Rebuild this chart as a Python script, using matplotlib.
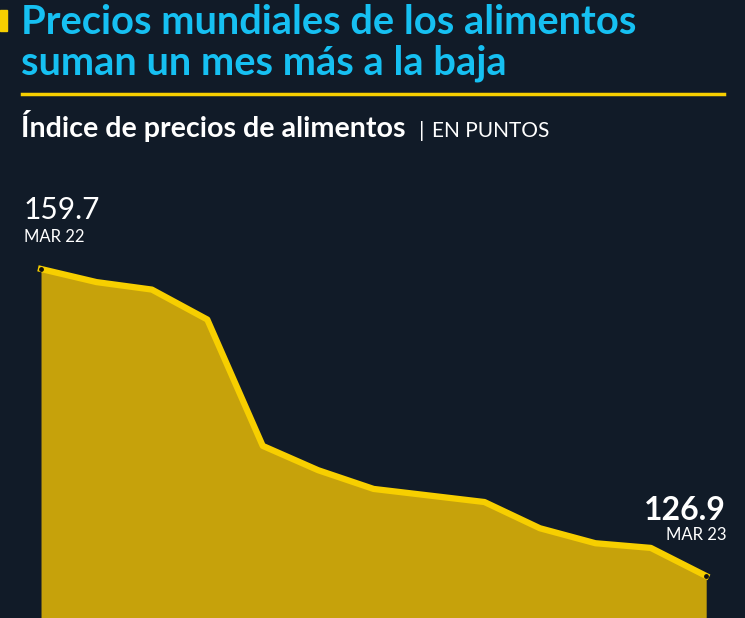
import numpy as np
import matplotlib.pyplot as plt

months = ["MAR 22", "ABR 22", "MAY 22", "JUN 22", "JUL 22", "AGO 22", "SEP 22",
          "OCT 22", "NOV 22", "DIC 22", "ENE 23", "FEB 23", "MAR 23"]
index_values = [159.7, 158.3, 157.5, 154.3, 140.8, 138.2, 136.2,
                135.5, 134.8, 132.0, 130.4, 129.9, 126.9]

bg = "#111b28"
cyan = "#16c0f2"
yellow = "#f7cf00"
fill_col = "#c6a20b"

W, H = 745, 618
fig = plt.figure(figsize=(W / 100, H / 100), dpi=100, facecolor=bg)

def fx(px):
    return px / W

def fy(py):
    return 1 - py / H

# chart area covers the whole figure, limits chosen to place the marks
ax = fig.add_axes([0, 0, 1, 1])
ax.set_facecolor(bg)
x = np.arange(len(index_values))
ax.fill_between(x, index_values, 100, color=fill_col, lw=0)
ax.plot(x, index_values, color=yellow, lw=4.5, solid_joinstyle="round")
ax.scatter([x[0], x[-1]], [index_values[0], index_values[-1]], s=6, color="#111111", zorder=5)
ax.set_xlim(-0.74, 12.70)
ax.set_ylim(122.41, 188.44)
ax.axis("off")

font = "Lato"

# header
fig.patches.append(plt.Rectangle((0, fy(31)), fx(7), 21 / H, transform=fig.transFigure,
                                 color=yellow))
fig.text(fx(21), fy(34), "Precios mundiales de los alimentos", color=cyan,
         fontsize=28.7, fontweight="bold", family=font, va="baseline")
fig.text(fx(21), fy(75), "suman un mes más a la baja", color=cyan,
         fontsize=28.7, fontweight="bold", family=font, va="baseline")
fig.add_artist(plt.Line2D([fx(22), fx(724)], [fy(94), fy(94)], color=yellow, lw=2.5))
fig.text(fx(21), fy(137), "Índice de precios de alimentos", color="white",
         fontsize=20.6, fontweight="bold", family=font, va="baseline")
fig.text(fx(419), fy(137), "|", color="white",
         fontsize=16, fontweight="normal", family=font, va="baseline")
fig.text(fx(432), fy(137), "EN PUNTOS", color="white",
         fontsize=15, fontweight="normal", family=font, va="baseline")

# value labels
fig.text(fx(24), fy(219), f"{index_values[0]}", color="white", fontsize=21.5,
         fontweight="normal", family=font, va="baseline")
fig.text(fx(24), fy(242), months[0], color="white", fontsize=12,
         fontweight="normal", family=font, va="baseline")
fig.text(fx(726), fy(520), f"{index_values[-1]}", color="white", fontsize=23,
         fontweight="bold", family=font, va="baseline", ha="right")
fig.text(fx(726), fy(540), months[-1], color="white", fontsize=12,
         fontweight="normal", family=font, va="baseline", ha="right")

fig.savefig("out.png", dpi=100, facecolor=bg)
